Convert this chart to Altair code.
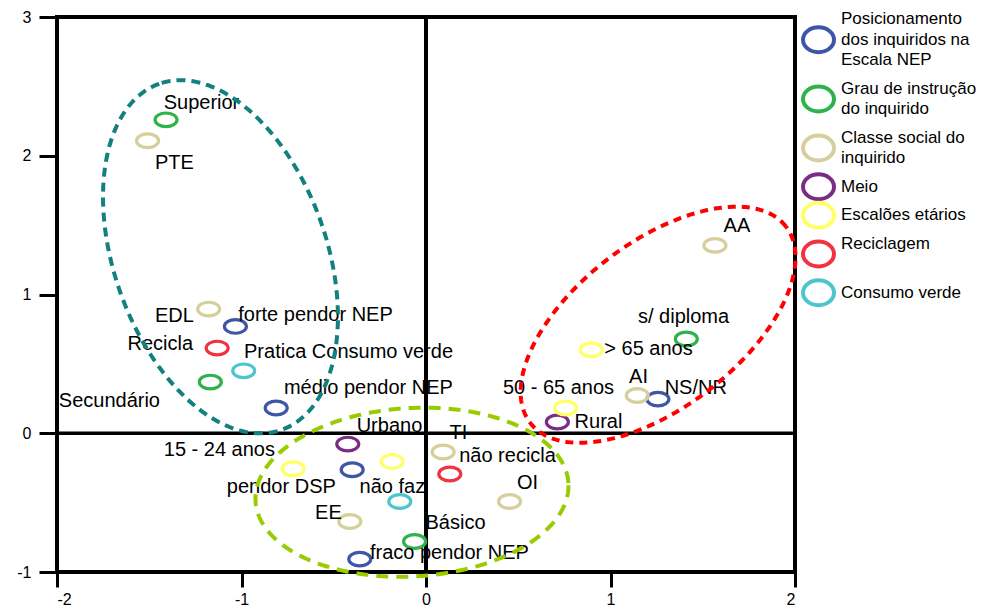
import altair as alt
import numpy as np
import pandas as pd

W, H = 738, 555
X_DOMAIN = [-2, 2]
Y_DOMAIN = [-1, 3]

# legend groups: each label split into its display lines
group_lines = [
    ["Posicionamento", "dos inquiridos na", "Escala NEP"],
    ["Grau de instrução", "do inquirido"],
    ["Classe social do", "inquirido"],
    ["Meio"],
    ["Escalões etários"],
    ["Reciclagem", ""],
    ["Consumo verde"],
]
group_names = [" ".join(l for l in g if l) for g in group_lines]
group_colors = ["#3f55a8", "#2db34a", "#d6cf9c", "#7b2c85", "#ffff66", "#ef3340", "#4cc5cf"]

# points (group index, x, y)
pt_group = [0, 0, 0, 0, 0,
            1, 1, 1, 1,
            2, 2, 2, 2, 2, 2, 2,
            3, 3,
            4, 4, 4, 4,
            5, 5,
            6, 6]
pt_x = [-1.033, -0.812, -0.400, -0.359, 1.257,
        -1.409, -1.169, -0.062, 1.411,
        -1.509, -1.178, 0.093, 0.453, -0.413, 1.145, 1.566,
        -0.424, 0.712,
        -0.720, -0.183, 0.756, 0.896,
        -1.132, 0.129,
        -0.988, -0.142]
pt_y = [0.770, 0.182, -0.263, -0.907, 0.246,
        2.259, 0.369, -0.780, 0.679,
        2.108, 0.895, -0.135, -0.492, -0.636, 0.272, 1.354,
        -0.078, 0.081,
        -0.256, -0.203, 0.182, 0.602,
        0.614, -0.294,
        0.450, -0.492]

# labels
lab_text = ["Superior", "PTE", "EDL", "forte pendor NEP", "Recicla", "Pratica Consumo verde",
            "Secundário", "médio pendor NEP", "Urbano", "15 - 24 anos", "TI", "não recicla",
            "pendor DSP", "não faz", "OI", "EE", "Básico", "fraco pendor NEP", "AA",
            "s/ diploma", "> 65 anos", "50 - 65 anos", "AI", "NS/NR", "Rural"]
lab_x = [-1.217, -1.364, -1.364, -0.599, -1.440, -0.420,
         -1.716, -0.312, -0.198, -1.120, 0.176, 0.442,
         -0.784, -0.182, 0.550, -0.529, 0.160, 0.127, 1.685,
         1.396, 1.206, 0.718, 1.152, 1.462, 0.935]
lab_y = [2.382, 1.950, 0.847, 0.854, 0.645, 0.587,
         0.234, 0.328, 0.054, -0.119, 0.004, -0.162,
         -0.386, -0.386, -0.357, -0.573, -0.645, -0.861, 1.495,
         0.840, 0.609, 0.328, 0.407, 0.328, 0.083]

# grouping ellipses: centre (data), semi-axes (px), angle (deg), colour, dash
ell_cx = [-1.114, 1.258, -0.076]
ell_cy = [1.272, 0.782, -0.425]
ell_a = [183.5, 161.2, 156.7]
ell_b = [106.3, 82.7, 84.2]
ell_ang = [109.5, 37.5, 3.3]
ell_color = ["#12807f", "#ff0000", "#99cc00"]
ell_dash = [[9, 6], [8, 6], [12, 8]]

sx = W / (X_DOMAIN[1] - X_DOMAIN[0])   # px per data unit
sy = H / (Y_DOMAIN[1] - Y_DOMAIN[0])


def ellipse_df(k, n=361):
    t = np.linspace(0, 2 * np.pi, n)
    th = np.radians(ell_ang[k])
    dx = ell_a[k] * np.cos(t) * np.cos(th) - ell_b[k] * np.sin(t) * np.sin(th)
    dy = ell_a[k] * np.cos(t) * np.sin(th) + ell_b[k] * np.sin(t) * np.cos(th)
    return pd.DataFrame({"x": ell_cx[k] + dx / sx, "y": ell_cy[k] + dy / sy, "i": np.arange(n)})


# manual legend layout (outside the plot, right side)
LEG_SYM_X = X_DOMAIN[1] + 23.5 / sx
LEG_TXT_X = X_DOMAIN[1] + 46.0 / sx
LEG_TOP_PX = -8.0      # px above plot top
LEG_LH = 20.5
LEG_PAD = 8.0
sym_rows, txt_rows = [], []
cur = LEG_TOP_PX
for g, lines in enumerate(group_lines):
    h = len(lines) * LEG_LH
    c = cur + h / 2
    sym_rows.append({"group": group_names[g], "x": LEG_SYM_X, "y": Y_DOMAIN[1] - c / sy})
    for j, ln in enumerate(lines):
        ly = c + (j - (len(lines) - 1) / 2) * LEG_LH
        txt_rows.append({"text": ln, "x": LEG_TXT_X, "y": Y_DOMAIN[1] - ly / sy})
    cur += h + LEG_PAD
leg_sym = pd.DataFrame(sym_rows)
leg_txt = pd.DataFrame(txt_rows)

pts = pd.DataFrame({"group": [group_names[g] for g in pt_group], "x": pt_x, "y": pt_y})
labs = pd.DataFrame({"text": lab_text, "x": lab_x, "y": lab_y})

FONT = "Liberation Sans"
xscale = alt.Scale(domain=X_DOMAIN, nice=False, zero=False)
yscale = alt.Scale(domain=Y_DOMAIN, nice=False, zero=False)

xaxis = alt.Axis(values=[-2, -1, 0, 1, 2], grid=False, domain=False, tickSize=15, tickWidth=3,
                 tickColor="black", labelFontSize=16, labelFont=FONT, labelColor="black",
                 labelPadding=4, title=None, labelExpr="'' + datum.value")
yaxis = alt.Axis(values=[-1, 0, 1, 2, 3], grid=False, domain=False, tickSize=18, tickWidth=3,
                 tickColor="black", labelFontSize=16, labelFont=FONT, labelColor="black",
                 labelPadding=8, title=None, labelExpr="'' + datum.value")

X = alt.X("x:Q", scale=xscale, axis=xaxis)
Y = alt.Y("y:Q", scale=yscale, axis=yaxis)
COLOR = alt.Color("group:N", scale=alt.Scale(domain=group_names, range=group_colors), legend=None)

POINT_PATH = "M -1 0 A 1 0.62 0 1 0 1 0 A 1 0.62 0 1 0 -1 0 Z"
LEG_PATH = "M -1 0 A 1 0.8 0 1 0 1 0 A 1 0.8 0 1 0 -1 0 Z"

zero_v = alt.Chart(pd.DataFrame({"x": [0]})).mark_rule(color="black", strokeWidth=4).encode(x=X)
zero_h = alt.Chart(pd.DataFrame({"y": [0]})).mark_rule(color="black", strokeWidth=3.5).encode(y=Y)

points = alt.Chart(pts).mark_point(shape=POINT_PATH, size=484, strokeWidth=3.2, filled=False,
                                   opacity=1).encode(x=X, y=Y, color=COLOR)

texts = alt.Chart(labs).mark_text(font=FONT, fontSize=20, color="black").encode(x=X, y=Y, text="text:N")

legend_symbols = alt.Chart(leg_sym).mark_point(shape=LEG_PATH, size=961, strokeWidth=4, filled=False,
                                               opacity=1).encode(x=X, y=Y, color=COLOR)
legend_texts = alt.Chart(leg_txt).mark_text(font=FONT, fontSize=17, color="black", align="left",
                                            baseline="middle").encode(x=X, y=Y, text="text:N")

ell_layers = []
for k in range(3):
    ell_layers.append(
        alt.Chart(ellipse_df(k)).mark_line(color=ell_color[k], strokeWidth=4, strokeDash=ell_dash[k],
                                           strokeCap="butt").encode(x=X, y=Y, order="i:Q")
    )

chart = alt.layer(zero_v, zero_h, points, texts, *ell_layers, legend_symbols, legend_texts).properties(
    width=W, height=H,
    autosize=alt.AutoSizeParams(type="none"),
    padding={"left": 49, "top": 9, "right": 190, "bottom": 38},
    background="white",
).configure_view(stroke="black", strokeWidth=4)

chart.save("out.html", embed_options={"renderer": "svg", "actions": False})
